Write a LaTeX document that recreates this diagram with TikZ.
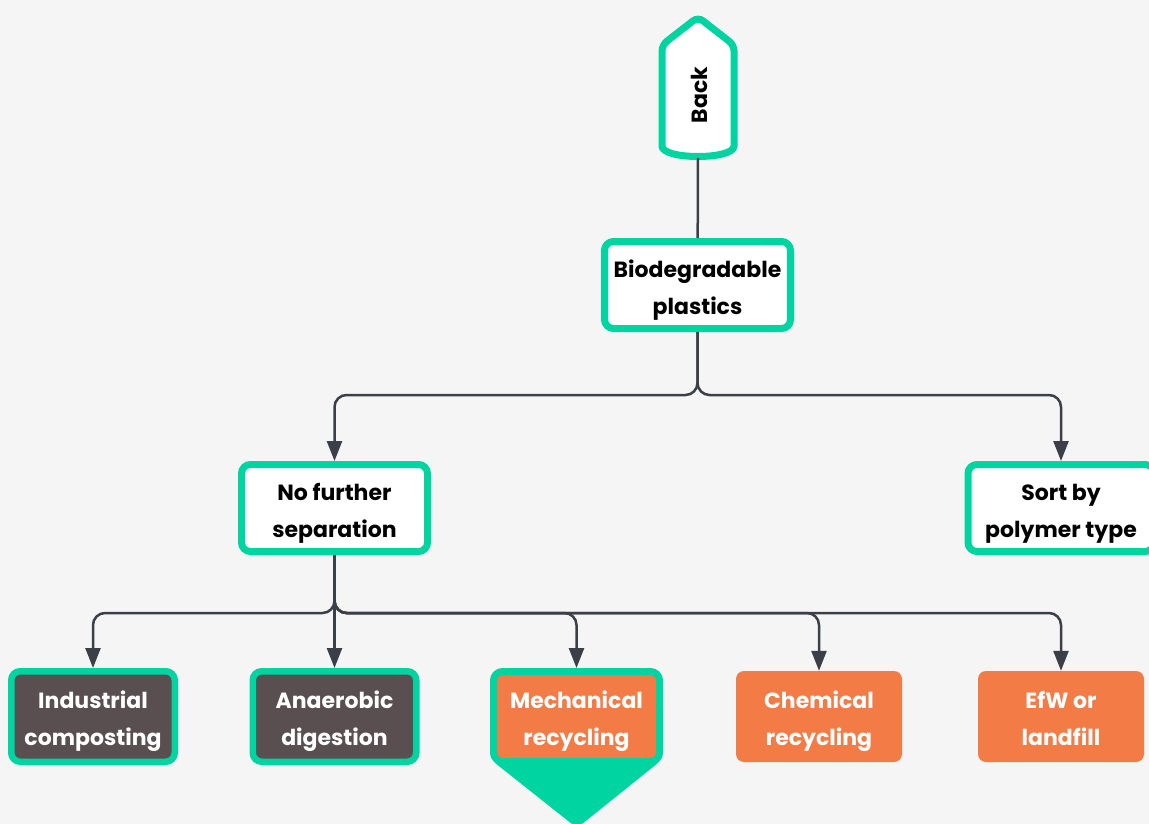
\documentclass[tikz,border=0pt]{standalone}
\usepackage{fontspec}
\setmainfont{Poppins}
\usepackage{tikz}
\usetikzlibrary{arrows.meta}

\definecolor{mint}{HTML}{00D4A0}
\definecolor{coral}{HTML}{F37C46}
\definecolor{umber}{HTML}{5A4F50}
\definecolor{slate}{HTML}{3A3F48}
\definecolor{paper}{HTML}{F5F5F5}

\begin{document}
\begin{tikzpicture}[x=1pt,y=-1pt,
		label font/.style={font=\bfseries\fontsize{22}{37}\selectfont},
		two lines/.style={label font,align=center,inner sep=0pt,text height=62pt,text depth=4pt},
		box/.style={two lines,draw=mint,line width=7pt,rounded corners=9pt,fill=white,text=black,
			minimum width=186pt,minimum height=87pt},
		darkbox/.style={box,line width=6.5pt,fill=umber,text=white,minimum width=163.5pt,minimum height=90.5pt},
		mintbox/.style={box,fill=coral,text=white,minimum width=166pt,minimum height=90pt},
		coralbox/.style={two lines,fill=coral,text=white,rounded corners=8pt,
			minimum width=166pt,minimum height=91pt},
		conn/.style={draw=slate,line width=2.5pt,rounded corners=12pt},
		arr/.style={conn,-{Triangle[width=15pt,length=20pt]}}]
	\useasboundingbox (0,0) rectangle (1149,824);
	\fill[paper] (0,0) rectangle (1149,824);
	
	%back
	\draw[mint,line width=7pt,fill=white,rounded corners=6pt] (662,100) -- (662,45) -- (698,17) -- (734,45) -- (734,140) .. controls (734,160) and (662,160) .. (662,140) -- cycle;
	\node[label font,rotate=90] (back) at (699,95) {Back};
	\coordinate (backfoot) at (698,158);
	
	\node[box] (bio) at (697.5,285) {Biodegradable\\plastics};
	\node[box] (nofurther) at (334.5,508) {No further\\separation};
	\node[box] (sort) at (1061,508) {Sort by\\polymer type};
	
	%arrow below mechanical recycling
	\fill[mint,rounded corners=8pt] (577,700) -- (490,700) -- (490,759) -- (577,828) -- (663,759) -- (663,700) -- cycle;
	
	\node[darkbox] (industrial) at (93,716.5) {Industrial\\composting};
	\node[darkbox] (anaerobic) at (334.5,716.5) {Anaerobic\\digestion};
	\node[mintbox] (mechanical) at (576.5,716.5) {Mechanical\\recycling};
	\node[coralbox] (chemical) at (819,716.5) {Chemical\\recycling};
	\node[coralbox] (efw) at (1061,716.5) {EfW or\\landfill};
	
	\draw[conn] (backfoot) -- (bio);
	\draw[arr] (bio.south) -- ++(0,63) -| (nofurther.north);
	\draw[arr] (bio.south) -- ++(0,63) -| (sort.north);
	\foreach \n in {industrial,mechanical,chemical,efw}
	{
		\draw[arr] (nofurther.south) -- ++(0,58) -| (\n.north);
	}
	\draw[arr] (nofurther.south) -- (anaerobic.north);
\end{tikzpicture}
\end{document}
